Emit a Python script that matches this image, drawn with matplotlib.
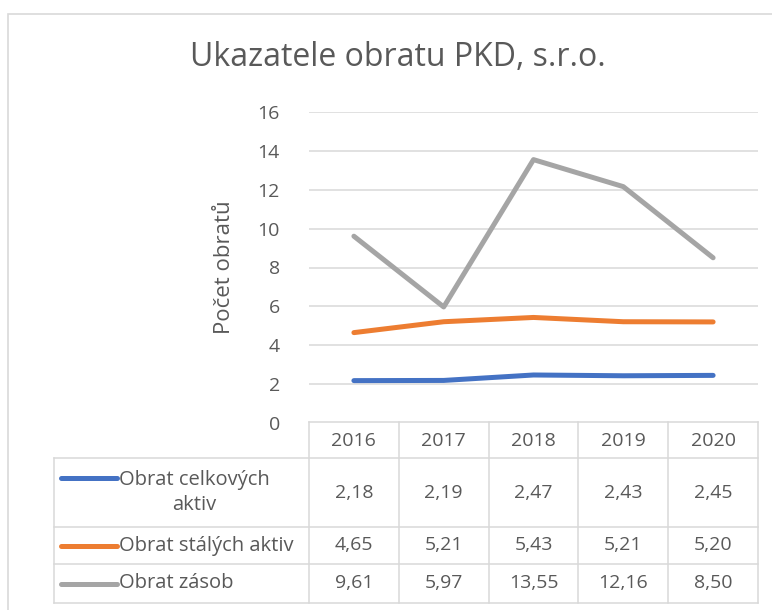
import matplotlib
matplotlib.use("Agg")
import matplotlib.pyplot as plt
from matplotlib.patches import Rectangle

plt.rcParams['font.family'] = ['Open Sans', 'DejaVu Sans']

# data
years = ["2016", "2017", "2018", "2019", "2020"]
series_names = ["Obrat celkových\naktiv", "Obrat stálých aktiv", "Obrat zásob"]
celkova_aktiva = [2.18, 2.19, 2.47, 2.43, 2.45]
stala_aktiva = [4.65, 5.21, 5.43, 5.21, 5.20]
zasoby = [9.61, 5.97, 13.55, 12.16, 8.50]
yticks = [0, 2, 4, 6, 8, 10, 12, 14, 16]

series = [celkova_aktiva, stala_aktiva, zasoby]
colors = ["#4472C4", "#ED7D31", "#A5A5A5"]
TXT = "#595959"
GRID = "#D9D9D9"
W, H = 772, 610

fig = plt.figure(figsize=(W / 100, H / 100), dpi=100)

# outer chart border
fig.add_artist(Rectangle((8 / W, -0.02), 1.02, (H - 14) / H + 0.02,
                         transform=fig.transFigure, fill=False,
                         edgecolor=GRID, linewidth=1.2))

fig.text(398 / W, 1 - 58 / H, "Ukazatele obratu PKD, s.r.o.", ha="center",
         va="center", fontsize=23, color=TXT)

# plot area
x0, x1, ytop, ybot = 309, 758, 112, 423
ax = fig.add_axes([x0 / W, 1 - ybot / H, (x1 - x0) / W, (ybot - ytop) / H])
xs = list(range(len(years)))
for vals, c in zip(series, colors):
    ax.plot(xs, vals, color=c, linewidth=3.6, solid_capstyle="round")
ax.set_xlim(-0.5, len(years) - 0.5)
ax.set_ylim(0, 16)
ax.set_yticks(yticks)
ax.set_yticklabels([str(t) for t in yticks])
ax.set_xticks([])
ax.tick_params(axis="y", length=0, pad=21, labelsize=14, labelcolor=TXT)
for t in yticks[1:]:
    ax.axhline(t, color=GRID, linewidth=1.1, zorder=0)
for s in ax.spines.values():
    s.set_visible(False)
ax.set_ylabel("Počet obratů", fontsize=16, color=TXT, labelpad=16)
ax.patch.set_alpha(0)

# data table underneath
tl, tr, tt, tb = 54, 758, 422, 603
col_w = (x1 - x0) / len(years)
label_cols = (x0 - tl) / col_w
tax = fig.add_axes([tl / W, 1 - tb / H, (tr - tl) / W, (tb - tt) / H])
tax.set_xlim(-0.5 - label_cols, len(years) - 0.5)
tax.set_ylim(tb - tt, 0)
tax.axis("off")
rows = [0, 36, 105, 142, 181]
left = -0.5 - label_cols
right = len(years) - 0.5
lk = dict(color=GRID, linewidth=1.1, clip_on=False)
tax.plot([-0.5, right], [rows[0], rows[0]], **lk)
for r in rows[1:]:
    tax.plot([left, right], [r, r], **lk)
tax.plot([left, left], [rows[1], rows[-1]], **lk)
for i in range(len(years) + 1):
    tax.plot([i - 0.5, i - 0.5], [rows[0], rows[-1]], **lk)

for i, y in enumerate(years):
    tax.text(i, (rows[0] + rows[1]) / 2 + 1, y, ha="center", va="center",
             fontsize=14, color=TXT)

line_x0 = left + 7 / col_w
line_x1 = left + 63 / col_w
text_x = left + 65 / col_w
for k, (name, vals, c) in enumerate(zip(series_names, series, colors)):
    ymid = (rows[k + 1] + rows[k + 2]) / 2
    for i, v in enumerate(vals):
        tax.text(i, ymid, f"{v:.2f}".replace(".", ","), ha="center",
                 va="center", fontsize=14, color=TXT)
    ly = rows[k + 1] + 20 if "\n" in name else ymid
    tax.plot([line_x0, line_x1], [ly, ly], color=c, linewidth=3.6,
             solid_capstyle="round")
    tax.text(text_x, ymid, name, ha="left", va="center", multialignment="center",
             fontsize=14.5, color=TXT, linespacing=1.35)

fig.savefig("out.png", dpi=100)
